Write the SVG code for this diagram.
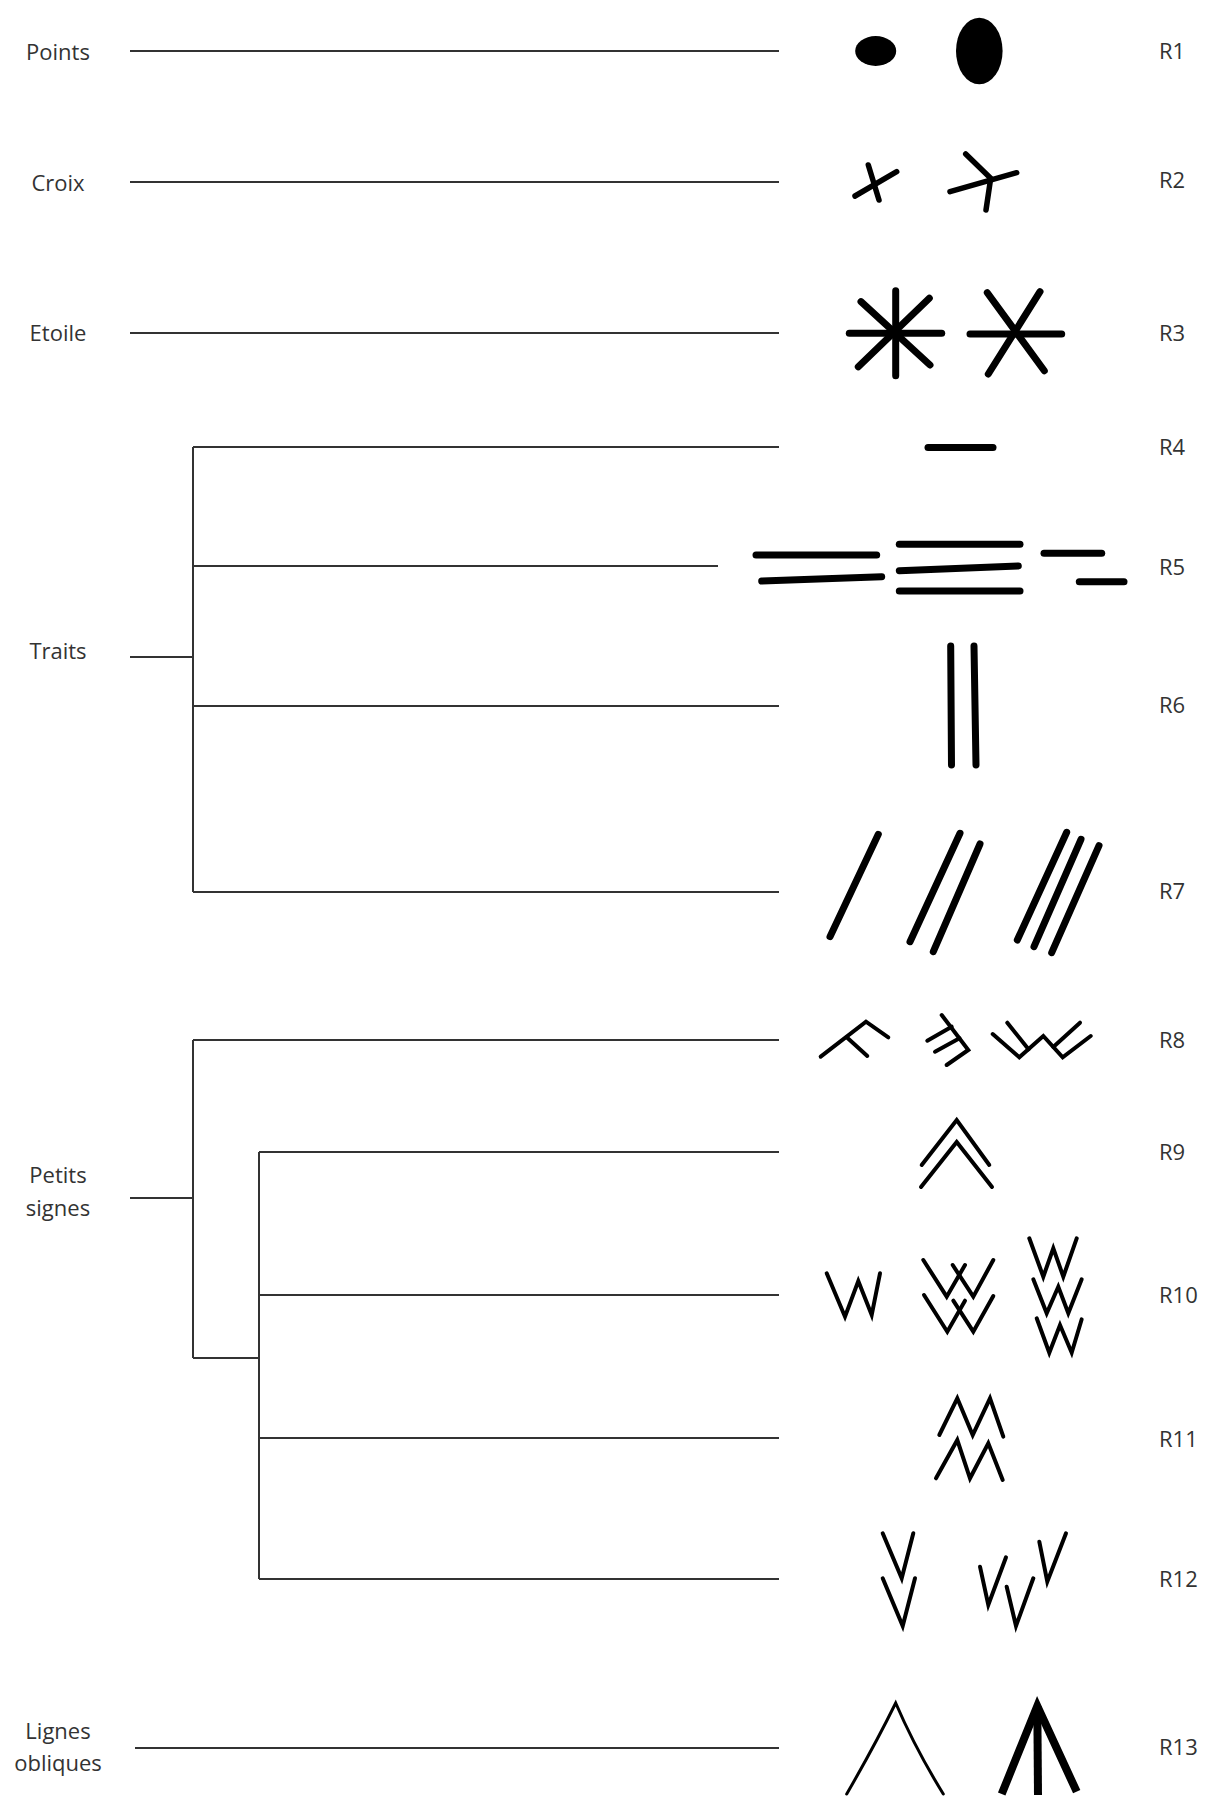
<svg xmlns="http://www.w3.org/2000/svg" width="1206" height="1800" viewBox="0 0 1206 1800">
<style>
text{font-family:"Open Sans","Liberation Sans",sans-serif;font-size:22px;fill:#333}
.lab{text-anchor:middle}
.tree{stroke:#333;stroke-width:2;fill:none}
.thick{stroke:#000;stroke-width:7;stroke-linecap:round;fill:none}
.mid{stroke:#000;stroke-width:5.5;stroke-linecap:round;fill:none}
.thin{stroke:#000;stroke-width:4;stroke-linecap:round;stroke-linejoin:miter;fill:none}
</style>
<rect width="1206" height="1800" fill="#fff"/>
<g id="connectors" class="tree">
<line x1="130" y1="51" x2="779" y2="51"/>
<line x1="130" y1="182" x2="779" y2="182"/>
<line x1="130" y1="333" x2="779" y2="333"/>
<line x1="130" y1="657" x2="193" y2="657"/>
<line x1="193" y1="447" x2="193" y2="892"/>
<line x1="193" y1="447" x2="779" y2="447"/>
<line x1="193" y1="566" x2="718" y2="566"/>
<line x1="193" y1="706" x2="779" y2="706"/>
<line x1="193" y1="892" x2="779" y2="892"/>
<line x1="130" y1="1198" x2="193" y2="1198"/>
<line x1="193" y1="1040" x2="193" y2="1358"/>
<line x1="193" y1="1040" x2="779" y2="1040"/>
<line x1="193" y1="1358" x2="259" y2="1358"/>
<line x1="259" y1="1152" x2="259" y2="1579"/>
<line x1="259" y1="1152" x2="779" y2="1152"/>
<line x1="259" y1="1295" x2="779" y2="1295"/>
<line x1="259" y1="1438" x2="779" y2="1438"/>
<line x1="259" y1="1579" x2="779" y2="1579"/>
<line x1="135" y1="1748" x2="779" y2="1748"/>
</g>
<g id="labels">
<text class="lab" x="58" y="60">Points</text>
<text class="lab" x="58" y="191">Croix</text>
<text class="lab" x="58" y="341">Etoile</text>
<text class="lab" x="58" y="659">Traits</text>
<text class="lab" x="58" y="1183">Petits</text>
<text class="lab" x="58" y="1216">signes</text>
<text class="lab" x="58" y="1739">Lignes</text>
<text class="lab" x="58" y="1771">obliques</text>
</g>
<g id="R1">
<ellipse cx="875.7" cy="51" rx="20.5" ry="15" fill="#000"/>
<ellipse cx="979.3" cy="51" rx="23.3" ry="33.3" fill="#000"/>
<text x="1159" y="59">R1</text>
</g>
<g id="R2" class="mid">
<line x1="855" y1="196" x2="896.7" y2="171.7"/>
<line x1="868.3" y1="165" x2="879" y2="200"/>
<line x1="950" y1="191.7" x2="1016.7" y2="172.7"/>
<polyline points="965.7,154 990.7,178.3 986,210"/>
<text x="1159" y="188" style="stroke:none">R2</text>
</g>
<g id="R3" class="thick">
<line x1="849.3" y1="333.3" x2="941.7" y2="333.3"/>
<line x1="895.7" y1="290.7" x2="895.7" y2="375.7"/>
<line x1="861" y1="301.7" x2="930" y2="365"/>
<line x1="929.3" y1="298.3" x2="858.3" y2="366.7"/>
<line x1="970" y1="334" x2="1061.7" y2="334"/>
<line x1="987.3" y1="292.7" x2="1044.3" y2="370.7"/>
<line x1="1040" y1="291.7" x2="988.3" y2="374"/>
<text x="1159" y="341" style="stroke:none">R3</text>
</g>
<g id="R4" class="thick">
<line x1="928" y1="447.5" x2="993" y2="447.5"/>
<text x="1159" y="455" style="stroke:none">R4</text>
</g>
<g id="R5" class="thick">
<line x1="756" y1="555" x2="876.7" y2="555"/>
<line x1="761.7" y1="581" x2="881.7" y2="576.7"/>
<line x1="899.3" y1="544.3" x2="1020" y2="544.3"/>
<line x1="899.3" y1="570.7" x2="1018.3" y2="566"/>
<line x1="899.3" y1="591" x2="1020" y2="591"/>
<line x1="1044" y1="553.3" x2="1101.7" y2="553.3"/>
<line x1="1079.3" y1="581.7" x2="1124" y2="581.7"/>
<text x="1159" y="575" style="stroke:none">R5</text>
</g>
<g id="R6" class="thick">
<line x1="950.7" y1="646" x2="951.5" y2="765"/>
<line x1="974" y1="646" x2="976" y2="765"/>
<text x="1159" y="713" style="stroke:none">R6</text>
</g>
<g id="R7" class="thick">
<line x1="878.3" y1="834.3" x2="830" y2="936.7"/>
<line x1="960" y1="833.3" x2="910" y2="941.7"/>
<line x1="980" y1="844" x2="933.3" y2="951.7"/>
<line x1="1066.7" y1="832.3" x2="1017.3" y2="940"/>
<line x1="1081" y1="839.3" x2="1034" y2="946.7"/>
<line x1="1099" y1="845.7" x2="1051.7" y2="952.7"/>
<text x="1159" y="899" style="stroke:none">R7</text>
</g>
<g id="R8" class="thin">
<polyline points="820.7,1056.7 866,1021.7 888.3,1037.3"/>
<line x1="846.7" y1="1037.3" x2="867.3" y2="1056"/>
<polyline points="941.7,1015 968.3,1050 946.7,1065"/>
<line x1="927.3" y1="1040.7" x2="951.7" y2="1026.7"/>
<line x1="935" y1="1051.7" x2="959.5" y2="1038.3"/>
<polyline points="992.7,1034 1019.3,1057.3 1043.3,1036 1062.7,1057.3 1090.7,1036"/>
<line x1="1007.3" y1="1022.7" x2="1028.5" y2="1049.3"/>
<line x1="1080" y1="1022.7" x2="1053.3" y2="1047"/>
<text x="1159" y="1048" style="stroke:none">R8</text>
</g>
<g id="R9" class="thin">
<polyline points="921.7,1165 956.7,1120 989.3,1165"/>
<polyline points="921,1187 956.7,1142 992,1187"/>
<text x="1159" y="1160" style="stroke:none">R9</text>
</g>
<g id="R10" class="thin">
<polyline points="826.7,1273.3 845,1316.7 858.3,1281 871.7,1315 880,1273.3"/>
<polyline points="923.3,1260 946.7,1296.7 965,1265"/>
<polyline points="952.7,1265 973.3,1296.7 993.3,1260"/>
<polyline points="924,1295 947.3,1331.7 965,1300.7"/>
<polyline points="953.3,1300.7 973.3,1331.7 993.3,1296"/>
<polyline points="1029.3,1238.3 1043.3,1276.7 1053.3,1248.3 1063.3,1276.7 1076.7,1238.3"/>
<polyline points="1033.3,1279.3 1046.7,1313.3 1058.3,1286.7 1068.3,1313.3 1081.7,1279.3"/>
<polyline points="1036.7,1318.3 1049.3,1352.7 1060,1325 1071.7,1352.7 1081.7,1319.3"/>
<text x="1159" y="1303" style="stroke:none">R10</text>
</g>
<g id="R11" class="thin">
<polyline points="939.3,1435 957.3,1398.3 972.7,1435 990,1398.3 1003.3,1436.7"/>
<polyline points="936,1478.3 957.3,1440 970,1478.3 988.3,1443.3 1002.7,1480"/>
<text x="1159" y="1447" style="stroke:none">R11</text>
</g>
<g id="R12" class="thin">
<polyline points="882.7,1533.3 901.7,1578.3 913.3,1533.3"/>
<polyline points="882.7,1578.3 902.7,1626 915,1578.3"/>
<polyline points="980,1566.7 988.3,1605 1006,1557.3"/>
<polyline points="1006.7,1586.7 1016,1626 1033.3,1578.3"/>
<polyline points="1039.3,1541.7 1047.3,1581.7 1066,1533.3"/>
<text x="1159" y="1587" style="stroke:none">R12</text>
</g>
<g id="R13">
<path d="M846.7,1794 Q875,1745 895.7,1703 Q915,1748 943.3,1794" stroke="#000" stroke-width="3" fill="none" stroke-linecap="round"/>
<polyline points="1001.7,1794 1037.3,1706 1076.7,1791.7" stroke="#000" stroke-width="8" fill="none" stroke-linejoin="miter"/>
<line x1="1037.3" y1="1706" x2="1038" y2="1795" stroke="#000" stroke-width="8"/>
<text x="1159" y="1755">R13</text>
</g>
</svg>
